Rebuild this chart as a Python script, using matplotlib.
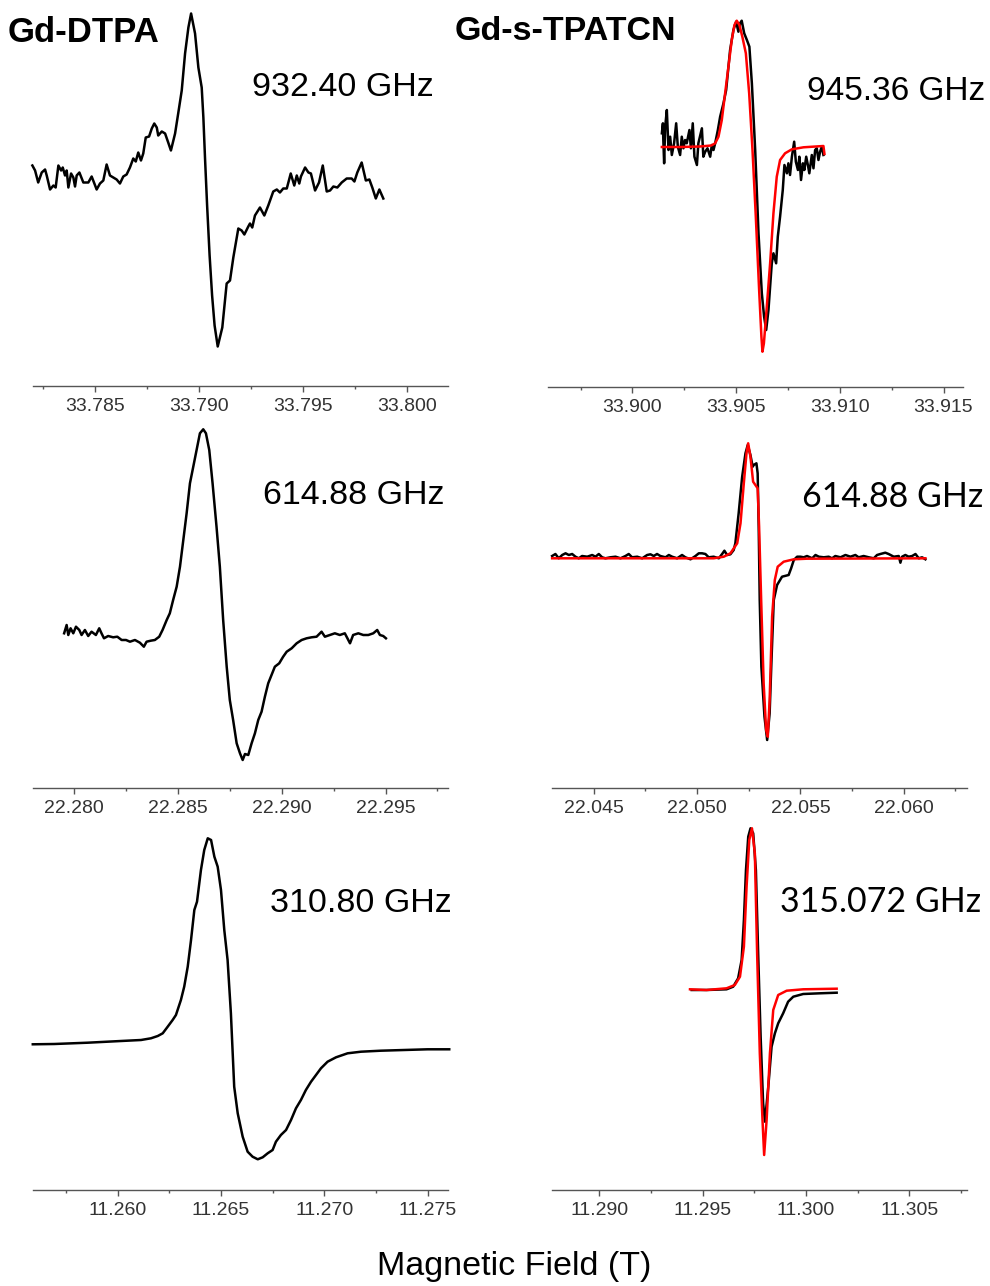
import matplotlib
matplotlib.use('Agg')
import matplotlib.pyplot as plt
from matplotlib.ticker import MultipleLocator, FormatStrFormatter

# field (T) and signal (arb. units)

# Gd-DTPA, 932.40 GHz
dtpa_932_field = [33.78199, 33.78212, 33.78227, 33.78244, 33.78260, 33.78268, 33.78284, 33.78300, 33.78311, 33.78324,
                  33.78337, 33.78345, 33.78356, 33.78364, 33.78372, 33.78385, 33.78396, 33.78404, 33.78412, 33.78425,
                  33.78444, 33.78468, 33.78484, 33.78497, 33.78508, 33.78524, 33.78540, 33.78556, 33.78572, 33.78588,
                  33.78604, 33.78620, 33.78636, 33.78652, 33.78668, 33.78684, 33.78696, 33.78708, 33.78721, 33.78732,
                  33.78744, 33.78760, 33.78773, 33.78785, 33.78797, 33.78804, 33.78821, 33.78837, 33.78852, 33.78865,
                  33.78885, 33.78900, 33.78917, 33.78933, 33.78949, 33.78962, 33.78981, 33.78997, 33.79013, 33.79021,
                  33.79029, 33.79039, 33.79051, 33.79063, 33.79075, 33.79090, 33.79112, 33.79133, 33.79149, 33.79165,
                  33.79189, 33.79205, 33.79218, 33.79237, 33.79245, 33.79256, 33.79269, 33.79293, 33.79314, 33.79333,
                  33.79357, 33.79374, 33.79389, 33.79405, 33.79422, 33.79441, 33.79458, 33.79470, 33.79482, 33.79490,
                  33.79510, 33.79526, 33.79538, 33.79558, 33.79577, 33.79595, 33.79614, 33.79630, 33.79646, 33.79665,
                  33.79686, 33.79710, 33.79734, 33.79747, 33.79761, 33.79782, 33.79802, 33.79819, 33.79833, 33.79850,
                  33.79867, 33.79886]
dtpa_932_signal = [221, 216, 204, 214, 217, 211, 197, 201, 199, 221,
                   216, 219, 211, 216, 199, 213, 209, 200, 211, 214,
                   204, 204, 210, 203, 197, 203, 206, 222, 211, 209,
                   207, 203, 210, 212, 219, 228, 225, 234, 226, 233,
                   249, 250, 258, 263, 259, 251, 255, 253, 244, 236,
                   253, 273, 296, 333, 359, 373, 353, 319, 299, 269,
                   228, 181, 131, 91, 61, 40, 59, 103, 106, 129,
                   158, 156, 152, 160, 163, 159, 171, 179, 171, 181,
                   195, 197, 194, 198, 198, 213, 201, 211, 203, 210,
                   219, 214, 213, 196, 204, 221, 195, 196, 200, 199,
                   204, 208, 208, 205, 214, 224, 206, 207, 199, 188,
                   197, 188]

# Gd-s-TPATCN, 945.36 GHz
tpatcn_945_field = [33.90142, 33.90147, 33.90149, 33.90153, 33.90158, 33.90166, 33.90174, 33.90182, 33.90190, 33.90201,
                    33.90211, 33.90219, 33.90230, 33.90238, 33.90246, 33.90254, 33.90262, 33.90275, 33.90282, 33.90291,
                    33.90299, 33.90311, 33.90318, 33.90335, 33.90342, 33.90351, 33.90362, 33.90375, 33.90383, 33.90391,
                    33.90399, 33.90412, 33.90423, 33.90439, 33.90452, 33.90471, 33.90487, 33.90500, 33.90511, 33.90519,
                    33.90527, 33.90539, 33.90552, 33.90564, 33.90576, 33.90592, 33.90608, 33.90624, 33.90635, 33.90645,
                    33.90656, 33.90672, 33.90680, 33.90693, 33.90701, 33.90712, 33.90725, 33.90733, 33.90745, 33.90752,
                    33.90760, 33.90769, 33.90780, 33.90788, 33.90798, 33.90805, 33.90813, 33.90822, 33.90829, 33.90838,
                    33.90846, 33.90853, 33.90865, 33.90873, 33.90881, 33.90889, 33.90897, 33.90905, 33.90913, 33.90921]
tpatcn_945_signal = [253.7, 263.7, 247, 223.7, 260.3, 277, 237, 250.3, 232, 243.7,
                     263.7, 240.3, 232, 250.3, 238.7, 247, 243.7, 257, 238.7, 263.7,
                     230.3, 222, 243.7, 258.7, 230.3, 235.3, 238.7, 230.3, 242, 237,
                     243.7, 257, 270.3, 283.7, 297, 337, 357, 365.3, 355.3, 363.7,
                     366.3, 353.7, 347, 340.3, 303.7, 237, 153.7, 93.7, 70.3, 57,
                     77, 123.7, 133.7, 123.7, 150.3, 170.3, 197, 222, 213.7, 223.7,
                     212, 230.3, 245.3, 225.3, 217, 230.3, 207, 223.7, 217, 230.3,
                     222, 213.7, 232, 218.7, 237, 238.7, 227, 235.3, 240.3, 232]
tpatcn_945_fit_field = [33.90142, 33.90230, 33.90326, 33.90380, 33.90399, 33.90415, 33.90431, 33.90447, 33.90463, 33.90479,
                        33.90492, 33.90503, 33.90516, 33.90530, 33.90547, 33.90563, 33.90579, 33.90595, 33.90611, 33.90622,
                        33.90627, 33.90634, 33.90648, 33.90664, 33.90680, 33.90696, 33.90712, 33.90736, 33.90769, 33.90825,
                        33.90921, 33.90926]
tpatcn_945_fit = [240, 240, 240.5, 241.5, 243.7, 250.3, 267, 293.7, 320.3, 347,
                  362, 366.3, 362, 350.3, 333.7, 293.7, 237, 170.3, 97, 50.3,
                  35.3, 43.7, 80.3, 123.7, 173.7, 210.3, 227, 233.7, 237.7, 239.7,
                  241, 233]

# Gd-DTPA, 614.88 GHz
dtpa_614_field = [22.27952, 22.27964, 22.27972, 22.27983, 22.27996, 22.28009, 22.28025, 22.28036, 22.28052, 22.28068,
                  22.28084, 22.28105, 22.28121, 22.28132, 22.28144, 22.28164, 22.28188, 22.28208, 22.28229, 22.28250,
                  22.28269, 22.28293, 22.28317, 22.28336, 22.28349, 22.28369, 22.28389, 22.28410, 22.28426, 22.28446,
                  22.28461, 22.28477, 22.28494, 22.28510, 22.28526, 22.28542, 22.28558, 22.28574, 22.28590, 22.28606,
                  22.28622, 22.28635, 22.28651, 22.28667, 22.28686, 22.28702, 22.28718, 22.28735, 22.28750, 22.28766,
                  22.28783, 22.28799, 22.28812, 22.28823, 22.28839, 22.28855, 22.28871, 22.28887, 22.28903, 22.28919,
                  22.28935, 22.28951, 22.28967, 22.28988, 22.29007, 22.29024, 22.29048, 22.29072, 22.29096, 22.29120,
                  22.29144, 22.29168, 22.29192, 22.29208, 22.29232, 22.29256, 22.29280, 22.29304, 22.29329, 22.29344,
                  22.29369, 22.29393, 22.29417, 22.29441, 22.29460, 22.29473, 22.29489, 22.29502]
dtpa_614_signal = [154.7, 163, 153, 159.7, 154.7, 161.3, 158, 153, 158, 152,
                   156.3, 153, 159.7, 154.7, 149.7, 152, 150.7, 151.3, 148, 148,
                   146.3, 148, 145.3, 141.3, 146.3, 147.3, 148, 151.3, 158, 168,
                   174.7, 188, 201.3, 221.3, 248, 274.7, 304.7, 321.3, 338, 354.7,
                   358.7, 354.7, 338, 304.7, 261.3, 221.3, 168, 121.3, 88, 68,
                   44.7, 34.7, 28, 34, 33, 44.7, 54.7, 68, 76.3, 91.3,
                   104.7, 113, 121.3, 124.7, 131.3, 136.3, 139.7, 144.7, 148, 149.7,
                   150.7, 151.3, 156.3, 151.3, 153, 154.7, 153, 154.7, 144.7, 153,
                   154.7, 153, 153, 154.7, 158, 153, 152, 149.7]

# Gd-s-TPATCN, 614.88 GHz
tpatcn_614_field = [22.04298, 22.04314, 22.04330, 22.04347, 22.04363, 22.04379, 22.04395, 22.04411, 22.04427, 22.04443,
                    22.04468, 22.04492, 22.04508, 22.04524, 22.04540, 22.04556, 22.04580, 22.04605, 22.04629, 22.04653,
                    22.04669, 22.04685, 22.04710, 22.04734, 22.04758, 22.04774, 22.04790, 22.04806, 22.04822, 22.04847,
                    22.04863, 22.04879, 22.04903, 22.04927, 22.04943, 22.04968, 22.04992, 22.05008, 22.05024, 22.05040,
                    22.05056, 22.05080, 22.05105, 22.05121, 22.05132, 22.05145, 22.05161, 22.05177, 22.05185, 22.05201,
                    22.05218, 22.05234, 22.05245, 22.05258, 22.05269, 22.05274, 22.05287, 22.05293, 22.05298, 22.05303,
                    22.05311, 22.05326, 22.05339, 22.05351, 22.05360, 22.05371, 22.05387, 22.05411, 22.05443, 22.05455,
                    22.05468, 22.05484, 22.05500, 22.05516, 22.05532, 22.05557, 22.05573, 22.05589, 22.05613, 22.05637,
                    22.05653, 22.05669, 22.05694, 22.05718, 22.05742, 22.05766, 22.05782, 22.05806, 22.05831, 22.05855,
                    22.05871, 22.05887, 22.05911, 22.05927, 22.05952, 22.05976, 22.05984, 22.05992, 22.06008, 22.06024,
                    22.06041, 22.06057, 22.06073, 22.06089, 22.06105]
tpatcn_614_signal = [232, 234, 229.7, 233, 234.7, 233, 234, 231.3, 229.7, 232,
                     231.3, 233, 231.3, 234, 230.7, 229.7, 230.7, 231.3, 229.7, 232,
                     234, 230.7, 231.3, 229.7, 233, 233.7, 232, 234, 232, 230.7,
                     233, 231.3, 229.7, 233, 230.7, 228.7, 232, 234.7, 234.7, 234,
                     230.7, 231.3, 229.7, 234, 237.3, 233, 233.7, 238, 244.7, 274.7,
                     311.3, 334.7, 343, 333, 321.3, 323, 324.7, 314.7, 261.3, 188,
                     121.3, 71.3, 48, 74.7, 128, 188, 203, 211.3, 213, 219.7,
                     228, 231.3, 231.3, 230.7, 232, 229.7, 233, 231.3, 230.7, 231.3,
                     229.7, 232, 230.7, 233, 231.3, 233, 230.7, 232, 230.7, 229.7,
                     233, 234, 235.3, 234, 231.3, 232, 225.3, 231.3, 233, 231.3,
                     232, 234, 229.7, 230.7, 228.7]
tpatcn_614_fit_field = [22.04298, 22.04774, 22.05080, 22.05129, 22.05161, 22.05194, 22.05210, 22.05226, 22.05239, 22.05247,
                        22.05258, 22.05271, 22.05282, 22.05293, 22.05300, 22.05310, 22.05322, 22.05334, 22.05342, 22.05351,
                        22.05363, 22.05376, 22.05390, 22.05419, 22.05468, 22.05532, 22.06105]
tpatcn_614_fit = [229.7, 229.7, 229.7, 231.3, 234.7, 244.7, 264.7, 304.7, 334.7, 344.7,
                  331.3, 306.3, 303, 299.7, 261.3, 188, 104.7, 58, 51.3, 88,
                  171.3, 208, 221.3, 226.3, 228.7, 229.3, 229.7]

# Gd-DTPA, 310.80 GHz
dtpa_310_field = [11.25589, 11.25693, 11.25855, 11.26016, 11.26113, 11.26161, 11.26194, 11.26218, 11.26242, 11.26266,
                  11.26282, 11.26306, 11.26322, 11.26339, 11.26355, 11.26371, 11.26384, 11.26403, 11.26419, 11.26436,
                  11.26452, 11.26468, 11.26484, 11.26500, 11.26516, 11.26532, 11.26548, 11.26564, 11.26581, 11.26605,
                  11.26629, 11.26653, 11.26678, 11.26702, 11.26726, 11.26750, 11.26766, 11.26790, 11.26815, 11.26839,
                  11.26863, 11.26887, 11.26911, 11.26936, 11.26960, 11.26984, 11.27016, 11.27057, 11.27113, 11.27178,
                  11.27274, 11.27387, 11.27500, 11.27605]
dtpa_310_signal = [145.7, 146, 147.3, 149, 150, 151.7, 154, 156.7, 163.3, 170,
                   175, 190, 203.3, 223.3, 250, 280, 288.3, 320, 340, 351.7,
                   350, 333.3, 323.3, 300, 260, 230, 176.7, 103.3, 76.7, 53.3,
                   38.3, 33.3, 30.7, 32.7, 36.7, 40, 48.3, 55, 60, 70,
                   81.7, 90, 100, 108.3, 115, 121.7, 128.3, 132.7, 136.7, 138.3,
                   139.3, 140, 140.7, 140.7]

# Gd-s-TPATCN, 315.072 GHz
tpatcn_315_field = [11.29447, 11.29519, 11.29616, 11.29648, 11.29672, 11.29689, 11.29700, 11.29710, 11.29721, 11.29732,
                    11.29745, 11.29758, 11.29769, 11.29781, 11.29793, 11.29802, 11.29818, 11.29834, 11.29850, 11.29866,
                    11.29890, 11.29914, 11.29939, 11.29987, 11.30068, 11.30149]
tpatcn_315_signal = [200, 200, 200.7, 203.3, 211.7, 230, 270, 320, 353.3, 361.7,
                     356.7, 320, 236.7, 153.3, 86.7, 68.3, 103.3, 143.3, 156.7, 166.7,
                     176.7, 188.3, 193.3, 196, 196.7, 197.3]
tpatcn_315_fit_field = [11.29439, 11.29519, 11.29616, 11.29656, 11.29681, 11.29700, 11.29713, 11.29726, 11.29739, 11.29753,
                        11.29764, 11.29777, 11.29790, 11.29798, 11.29810, 11.29826, 11.29842, 11.29866, 11.29907, 11.29987,
                        11.30149]
tpatcn_315_fit = [200.7, 200, 201.7, 205, 213.3, 243.3, 303.3, 350, 361.7, 336.7,
                  236.7, 136.7, 70, 35, 70, 136.7, 180, 195, 199.3, 200.7,
                  201.3]

W, H = 990, 1286
fig = plt.figure(figsize=(W / 100, H / 100), dpi=100)


def panel(left, bottom, height, xlim):
    # positions given in pixels of the final image
    ax = fig.add_axes([left / W, 1 - bottom / H, 415 / W, height / H])
    ax.set_xlim(*xlim)
    ax.set_ylim(0, height)
    for s in ['top', 'left', 'right']:
        ax.spines[s].set_visible(False)
    ax.spines['bottom'].set_color('#555555')
    ax.spines['bottom'].set_linewidth(1.0)
    ax.set_yticks([])
    ax.xaxis.set_major_locator(MultipleLocator(0.005))
    ax.xaxis.set_minor_locator(MultipleLocator(0.0025))
    ax.xaxis.set_major_formatter(FormatStrFormatter('%.3f'))
    ax.tick_params(axis='x', which='major', direction='out', length=4, width=1,
                   color='#555555', labelsize=14, labelcolor='#333333', pad=4.5)
    ax.tick_params(axis='x', which='minor', direction='out', length=2.5, width=1, color='#555555')
    for lab in ax.get_xticklabels():
        lab.set_family('Liberation Sans')
    ax.patch.set_alpha(0)
    return ax


ax1 = panel(33, 386.5, 386, (33.78202, 33.80197))
ax1.plot(dtpa_932_field, dtpa_932_signal, color='black', lw=1.8, clip_on=False)

ax2 = panel(548, 387, 387, (33.89593, 33.91594))
ax2.plot(tpatcn_945_field, tpatcn_945_signal, color='black', lw=1.8, clip_on=False)
ax2.plot(tpatcn_945_fit_field, tpatcn_945_fit, color='#ff0000', lw=1.8, clip_on=False)

ax3 = panel(33, 788, 378, (22.27802, 22.29801))
ax3.plot(dtpa_614_field, dtpa_614_signal, color='black', lw=1.8, clip_on=False)

ax4 = panel(551.5, 788, 378, (22.04295, 22.06304))
ax4.plot(tpatcn_614_field, tpatcn_614_signal, color='black', lw=1.8, clip_on=False)
ax4.plot(tpatcn_614_fit_field, tpatcn_614_fit, color='#ff0000', lw=1.8, clip_on=False)

ax5 = panel(33, 1190, 370, (11.25590, 11.27599))
ax5.plot(dtpa_310_field, dtpa_310_signal, color='black', lw=1.8, clip_on=False)

ax6 = panel(552, 1190, 370, (11.28771, 11.30780))
ax6.plot(tpatcn_315_field, tpatcn_315_signal, color='black', lw=1.8, clip_on=False)
ax6.plot(tpatcn_315_fit_field, tpatcn_315_fit, color='#ff0000', lw=1.8, clip_on=False)


def label(x, y, s, **kw):
    fig.text(x / W, 1 - y / H, s, va='center', ha='left', **kw)


label(8, 32, 'Gd-DTPA', family='Liberation Sans', weight='bold', size=25)
label(455, 32, 'Gd-s-TPATCN', family='Liberation Sans', weight='bold', size=24.5)
label(252, 87, '932.40 GHz', family='Liberation Sans', size=24.5)
label(807, 92, '945.36 GHz', family='Liberation Sans', size=24)
label(263, 496, '614.88 GHz', family='Liberation Sans', size=24.5)
label(802, 497, '614.88 GHz', family='Lato', size=24.5)
label(270, 903, '310.80 GHz', family='Liberation Sans', size=24.5)
label(780, 902, '315.072 GHz', family='Lato', size=24.5)
fig.text(514 / W, 1 - 1267 / H, 'Magnetic Field (T)', ha='center', va='center',
         family='Liberation Sans', size=24.5)

fig.savefig('out.png', dpi=100)
